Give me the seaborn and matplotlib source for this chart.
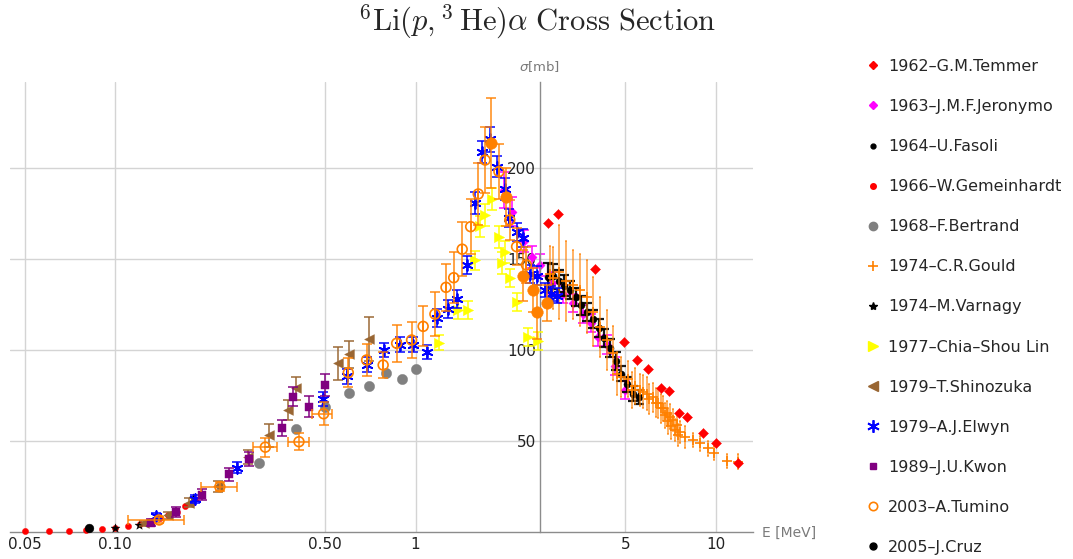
import numpy as np
import pandas as pd
import matplotlib
matplotlib.use("Agg")
import matplotlib.pyplot as plt
import seaborn as sns
from matplotlib.lines import Line2D
from matplotlib.ticker import FixedLocator, NullFormatter

# ---------------- data (E in MeV, sigma in mb) ----------------
temmer_E = [2.77, 2.99, 3.96, 4.96, 5.45, 5.96, 6.58, 7.00, 7.53, 8.00, 9.04, 10.0, 11.9]
temmer_S = [170, 175, 144.4, 104.2, 94.5, 89.4, 79.2, 77.6, 65.5, 62.9, 54.1, 48.6, 37.6]

jer_E = [1.97, 2.10, 2.30, 2.44, 2.60, 2.85, 3.10, 3.35, 3.60, 3.85, 4.06, 4.33, 4.60, 5.00]
jer_S = [188, 176, 160, 151, 147, 137, 131, 126, 120, 115, 107, 103, 91, 78]
jer_err = [10, 8, 6, 6, 6, 6, 5, 5, 5, 5, 5, 5, 5, 5]

fas_E = [2.76, 2.88, 3.00, 3.13, 3.27, 3.42, 3.57, 3.73, 3.90, 4.07, 4.25, 4.45, 4.65, 4.85, 5.07, 5.30, 5.55]
fas_S = [140, 140.5, 138, 135.5, 133, 129, 124.5, 121, 117, 112, 106.5, 101, 94, 87, 81, 76, 74]
fas_err = [8, 7, 6, 6, 5, 5, 5, 5, 5, 5, 5, 5, 5, 4, 4, 4, 4]

gem_E = [0.050, 0.060, 0.070, 0.080, 0.090, 0.100, 0.110, 0.121, 0.132, 0.141, 0.150, 0.160, 0.171, 0.180]
gem_S = [0.1, 0.2, 0.4, 0.8, 1.3, 1.8, 3.0, 4.3, 6.0, 7.5, 9.3, 11.0, 14.0, 16.0]

bert_E = [0.30, 0.40, 0.50, 0.60, 0.70, 0.80, 0.90, 1.00]
bert_S = [37.6, 56.5, 68.8, 76.5, 80.4, 87.5, 83.9, 89.5]

gould_E = [2.80, 2.87, 3.00, 3.17, 3.35, 3.53, 3.72, 3.91, 4.11, 4.33, 4.56,
           4.68, 4.85, 5.10, 5.27, 5.40, 5.59, 5.70, 5.88, 6.00, 6.19, 6.30, 6.44, 6.55,
           6.69, 6.75, 6.86, 6.95, 7.04, 7.10, 7.22, 7.30, 7.41, 7.50, 7.60, 7.90,
           8.42, 8.86, 9.44, 9.89, 10.9, 11.9]
gould_S = [142, 139.5, 143, 138, 135.8, 133, 129.3, 121, 112.8, 105.5, 98.3,
           87, 85, 84, 78, 80, 78, 77, 76, 73, 74, 71, 70.6, 68,
           67.9, 64, 65.1, 61, 63.3, 58, 61.5, 56, 58.7, 53, 55, 52.3,
           50.4, 48.6, 45.9, 43.4, 39, 38.5]
gould_err = [15, 17, 26, 22, 19, 20, 20, 19, 16.5, 16.5, 14.7,
             12, 11, 10, 10, 10, 9, 9, 9, 8, 8, 8, 8, 8,
             7, 7, 7, 7, 7, 7, 6, 6, 6, 6, 6, 6,
             4, 4, 4, 4, 4, 4]

var_E = [0.100, 0.120, 0.181]
var_S = [1.8, 3.6, 18.5]

lin_E = [1.20, 1.39, 1.50, 1.58, 1.64, 1.70, 1.80, 1.89, 1.94, 1.99, 2.06, 2.17, 2.37, 2.56]
lin_S = [104, 122, 122, 149.3, 168, 174.3, 183, 162.4, 147.7, 154, 139.5, 126.6, 107.3, 105.1]
lin_err = [4, 5, 5, 5, 6, 6, 6, 6, 6, 6, 5, 5, 5, 5]

shin_E = [0.125, 0.150, 0.176, 0.220, 0.277, 0.326, 0.377, 0.401, 0.55, 0.60, 0.70]
shin_S = [4.6, 9.0, 15.8, 25.0, 41.0, 53.0, 67.0, 78.9, 92.7, 97.6, 105.9]
shin_err = [1.5, 2, 2.5, 3, 4, 6.5, 5.5, 6.5, 9, 7.5, 12]

elw_E = [0.137, 0.184, 0.255, 0.49, 0.589, 0.687, 0.785, 0.887, 0.978, 1.09, 1.18, 1.285,
         1.377, 1.48, 1.577, 1.66, 1.77, 1.87, 1.985, 2.05, 2.17, 2.28, 2.40, 2.53, 2.70, 2.82, 2.95]
elw_S = [8.5, 18, 35.2, 73, 85.5, 92, 100, 103, 103, 99, 117.8, 122.6,
         128, 146.8, 181, 209, 216, 201, 188.5, 172.5, 165, 161.5, 142, 141, 133, 131, 130]
elw_err = [2, 2, 3, 4, 4, 4, 4, 4, 4, 4, 5, 5, 5, 5, 6, 6, 7, 6, 6, 5, 5, 5, 5, 5, 4, 4, 4]

kwon_E = [0.132, 0.159, 0.195, 0.239, 0.278, 0.360, 0.390, 0.442, 0.500]
kwon_S = [5.0, 10.8, 20.2, 31.6, 40.0, 57.0, 74.3, 68.8, 80.7]
kwon_err = [2, 2.5, 3, 3.5, 4, 4.4, 5.3, 5.8, 6.2]

tum_E = [0.140, 0.223, 0.316, 0.409, 0.494, 0.597, 0.687, 0.780, 0.865, 0.970, 1.06, 1.16,
         1.263, 1.34, 1.43, 1.526, 1.617, 1.705, 1.895, 2.06, 2.17, 2.34]
tum_S = [6.4, 24.7, 46.5, 49.5, 64.9, 87.5, 94.5, 91.7, 103.7, 105.5, 113, 119.8,
         134.5, 139.8, 155.5, 167.9, 185.9, 204.6, 198.2, 171.6, 156.9, 146.8]
tum_err = [1.5, 2.5, 5.3, 4.8, 6.4, 8, 9, 7, 10.3, 10, 11, 12, 13, 14, 15, 15, 17, 18, 15, 11, 10, 10]
tum_Elo = [0.110, 0.193, 0.287, 0.377, 0.452]
tum_Ehi = [0.169, 0.255, 0.345, 0.441, 0.528]

tumf_E = [1.78, 2.00, 2.28, 2.47, 2.53, 2.73]
tumf_S = [214, 184, 141, 133, 121, 125.7]
tumf_err = [25, 16, 14, 12, 15, 10]

cruz_E = [0.082]
cruz_S = [1.8]

labels = ["1962\u2013G.M.Temmer", "1963\u2013J.M.F.Jeronymo", "1964\u2013U.Fasoli",
          "1966\u2013W.Gemeinhardt", "1968\u2013F.Bertrand", "1974\u2013C.R.Gould",
          "1974\u2013M.Varnagy", "1977\u2013Chia\u2013Shou Lin", "1979\u2013T.Shinozuka",
          "1979\u2013A.J.Elwyn", "1989\u2013J.U.Kwon", "2003\u2013A.Tumino", "2005\u2013J.Cruz"]

RED, MAG, BLK, GRY = "#FF0000", "#FF00FF", "#000000", "#808080"
ORG, YEL, BRN, BLU, PUR = "#FF8000", "#FFFF00", "#996633", "#0000FF", "#800080"
AST = (6, 2, 0)

# ---------------- figure ----------------
sns.set_style("white")
plt.rcParams['font.family'] = ['DejaVu Sans']

W, H = 1073, 559
fig = plt.figure(figsize=(W / 100, H / 100), dpi=100)
ax = fig.add_axes([10 / W, 1 - 531.6 / H, 743 / W, 449.3 / H])
ax.set_xscale('log')
ax.set_xlim(0.0446, 13.3)
ax.set_ylim(0, 247.4)


def draw(E, S, color, marker, s, z, err=None, xerr=None, hollow=False, filled=True,
         ecolor=None, ealpha=0.9, elw=1.2, lw=1.2, cap=3.5):
    if err is not None or xerr is not None:
        ax.errorbar(E, S, yerr=err, xerr=xerr, fmt='none', ecolor=ecolor or color,
                    elinewidth=elw, capsize=cap, capthick=elw, alpha=ealpha,
                    zorder=z, clip_on=False)
    df = pd.DataFrame({'E': E, 'S': S})
    kw = dict(marker=marker, s=s, zorder=z + 0.5, clip_on=False, legend=False, ax=ax)
    if hollow:
        kw.update(color=color, facecolor='none', edgecolor=color, linewidth=lw)
    elif filled:
        kw.update(color=color, edgecolor=color, linewidth=0.3)
    else:
        kw.update(color=color, linewidth=lw)
    sns.scatterplot(data=df, x='E', y='S', **kw)


draw(jer_E, jer_S, MAG, 'D', 22, 2, err=jer_err)
draw(fas_E, fas_S, BLK, 'o', 26, 3, err=fas_err, elw=1.6)
draw(gem_E, gem_S, RED, 'o', 20, 4)
draw(bert_E, bert_S, GRY, 'o', 55, 5)
draw(gould_E, gould_S, ORG, '+', 50, 6, err=gould_err, filled=False, ealpha=0.7, lw=1.2,
     cap=1.0)
draw(var_E, var_S, BLK, '*', 45, 7)
draw(lin_E, lin_S, YEL, '>', 55, 8, err=lin_err)
draw(shin_E, shin_S, BRN, '<', 50, 9, err=shin_err)
draw(elw_E, elw_S, BLU, AST, 60, 10, err=elw_err, filled=False, lw=1.3)
draw(kwon_E, kwon_S, PUR, 's', 28, 11, err=kwon_err)
tE = np.array(tum_E)
xlo = np.zeros(len(tE)); xhi = np.zeros(len(tE))
xlo[:len(tum_Elo)] = tE[:len(tum_Elo)] - np.array(tum_Elo)
xhi[:len(tum_Ehi)] = np.array(tum_Ehi) - tE[:len(tum_Ehi)]
draw(tum_E, tum_S, ORG, 'o', 50, 12, err=tum_err, xerr=[xlo, xhi], hollow=True, ealpha=0.85)
draw(tumf_E, tumf_S, ORG, 'o', 70, 12.2, err=tumf_err, ealpha=0.85)
draw(cruz_E, cruz_S, BLK, 'o', 40, 13)
draw(temmer_E, temmer_S, RED, 'D', 26, 14)

# ---------------- axes styling ----------------
for side in ['top', 'right']:
    ax.spines[side].set_visible(False)
ax.spines['left'].set_position(('data', 2.6))
for side in ['left', 'bottom']:
    ax.spines[side].set_color('#8c8c8c')
    ax.spines[side].set_linewidth(1.0)

ax.set_xticks([0.05, 0.1, 0.5, 1, 5, 10])
ax.set_xticklabels(['0.05', '0.10', '0.50', '1', '5', '10'])
ax.xaxis.set_minor_locator(FixedLocator([0.2, 0.3, 0.4, 0.6, 0.7, 0.8, 0.9, 2, 3, 4, 6, 7, 8, 9]))
ax.xaxis.set_minor_formatter(NullFormatter())
ax.set_yticks([50, 100, 150, 200])
ax.set_yticklabels(['50', '100', '150', '200'])
ax.yaxis.set_minor_locator(FixedLocator([v for v in range(10, 250, 10) if v % 50]))
ax.yaxis.set_minor_formatter(NullFormatter())
ax.tick_params(which='both', direction='in', color='#8c8c8c', width=1.0,
               labelsize=11, labelcolor='#222222')
ax.tick_params(which='major', length=5.5)
ax.tick_params(which='minor', length=2.5)
ax.tick_params(axis='x', pad=4)
ax.tick_params(axis='y', pad=3)
ax.grid(which='major', color='#d4d4d4', linewidth=1.0)
ax.set_axisbelow(True)
ax.set_xlabel('')
ax.set_ylabel('')

fig.text(540 / W, 1 - 67 / H, r'$\sigma$[mb]', color='#7a7a7a', fontsize=9.5,
         ha='center', va='center')
fig.text(762 / W, 1 - 533 / H, 'E [MeV]', color='#7a7a7a', fontsize=10,
         ha='left', va='center')
fig.text(537 / W, 1 - 22 / H,
         r'$^{6}\mathrm{Li}(p,^{3}\,\mathrm{He})\alpha\ \mathrm{Cross\ Section}$',
         math_fontfamily='cm', fontsize=22, ha='center', va='center')

# ---------------- legend ----------------
def h(marker, color, ms, hollow=False, mew=1.0):
    return Line2D([], [], linestyle='none', marker=marker, markersize=ms,
                  markerfacecolor='none' if hollow else color, markeredgecolor=color,
                  markeredgewidth=mew)

handles = [h('D', RED, 4), h('D', MAG, 4), h('o', BLK, 3.5), h('o', RED, 4),
           h('o', GRY, 6), h('+', ORG, 7, mew=1.2), h('*', BLK, 6), h('>', YEL, 7),
           h('<', BRN, 7), h(AST, BLU, 9, mew=1.3), h('s', PUR, 5),
           h('o', ORG, 6, hollow=True, mew=1.2), h('o', BLK, 5)]
fig.legend(handles, labels, loc='upper left', bbox_to_anchor=(865 / W, 1 - 59 / H),
           frameon=False, fontsize=11.5, labelspacing=1.57, handlelength=1.0,
           handletextpad=0.45, borderpad=0, borderaxespad=0)

fig.savefig('out.png', dpi=100)
